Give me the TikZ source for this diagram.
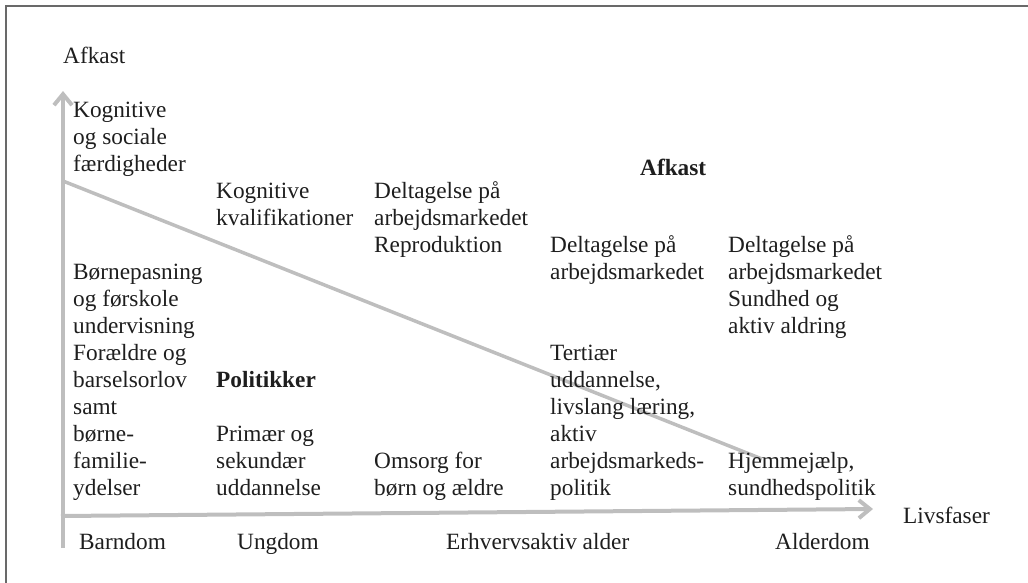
\documentclass[tikz,border=0pt]{standalone}
\usepackage{fontspec}
\setmainfont{Liberation Serif}
\usetikzlibrary{arrows.meta}
\definecolor{axisgray}{RGB}{190,190,190}
\definecolor{framegray}{RGB}{105,105,105}
\definecolor{txt}{RGB}{30,30,30}
\newcommand{\mlines}[1]{\begin{tabular}[t]{@{}l@{}}#1\end{tabular}}
\tikzset{
  lbl/.style={anchor=base west, inner sep=0pt, text=txt, font=\fontsize{23.3}{27}\selectfont},
  boldlbl/.style={lbl, font=\fontsize{23.3}{27}\selectfont\bfseries},
  axisline/.style={draw=axisgray, line width=4pt, -{Straight Barb[length=11pt,width=18pt]}},
  slope/.style={draw=axisgray, line width=3.5pt},
  frameline/.style={draw=framegray, line width=2pt}
}
\begin{document}
\begin{tikzpicture}[x=1pt,y=-1pt]
\useasboundingbox (0,0) rectangle (1028,582);
% frame
\coordinate (fb) at (6,590);
\coordinate (fc) at (6,6);
\coordinate (fr) at (1040,6);
\draw[frameline] (fb) -- (fc) -- (fr);
% axes
\coordinate (yb) at (63,548);
\coordinate (yt) at (63,91);
\coordinate (xl) at (61,516);
\coordinate (xr) at (873,509);
\draw[axisline] (yb) -- (yt);
\draw[axisline] (xl) -- (xr);
% slope
\coordinate (d1) at (63,181);
\coordinate (d2) at (762,459);
\draw[slope] (d1) -- (d2);
% labels
\node[lbl] (afk) at (63,63) {Afkast};
\node[lbl] (c1a) at (73,117) {\mlines{Kognitive\\og sociale\\færdigheder}};
\node[lbl] (c2a) at (216,198) {\mlines{Kognitive\\kvalifikationer}};
\node[lbl] (c3a) at (374,198) {\mlines{Deltagelse på\\arbejdsmarkedet\\Reproduktion}};
\node[boldlbl] (afkb) at (640,175) {Afkast};
\node[lbl] (c4a) at (550,252) {\mlines{Deltagelse på\\arbejdsmarkedet}};
\node[lbl] (c5a) at (728,252) {\mlines{Deltagelse på\\arbejdsmarkedet\\Sundhed og\\aktiv aldring}};
\node[lbl] (c1b) at (73,279) {\mlines{Børnepasning\\og førskole\\undervisning\\Forældre og\\barselsorlov\\samt\\børne-\\familie-\\ydelser}};
\node[boldlbl] (pol) at (216,387) {Politikker};
\node[lbl] (c2b) at (216,441) {\mlines{Primær og\\sekundær\\uddannelse}};
\node[lbl] (c3b) at (374,468) {\mlines{Omsorg for\\børn og ældre}};
\node[lbl] (c4b) at (550,360) {\mlines{Tertiær\\uddannelse,\\livslang læring,\\aktiv\\arbejdsmarkeds-\\politik}};
\node[lbl] (c5b) at (728,468) {\mlines{Hjemmejælp,\\sundhedspolitik}};
\node[lbl] (ph1) at (79,549) {Barndom};
\node[lbl] (ph2) at (237,549) {Ungdom};
\node[lbl] (ph3) at (446,549) {Erhvervsaktiv alder};
\node[lbl] (ph4) at (775,549) {Alderdom};
\node[lbl] (liv) at (903,523) {Livsfaser};
\end{tikzpicture}
\end{document}
